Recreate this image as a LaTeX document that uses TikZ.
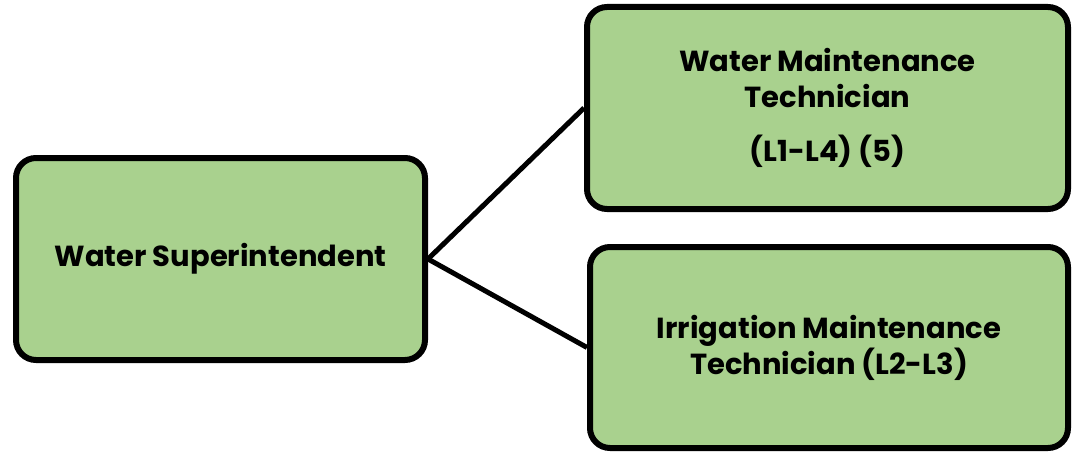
\documentclass[tikz,border=0pt]{standalone}
\usepackage{fontspec}
\setmainfont{Poppins}[UprightFont=* Bold, BoldFont=* Bold]
\definecolor{boxgreen}{HTML}{A9D18E}
\begin{document}
\begin{tikzpicture}[x=1pt,y=-1pt,
  orgbox/.style={draw=black, line width=6pt, fill=boxgreen, rounded corners=20pt,
    align=center, font=\fontsize{29}{36}\selectfont, inner sep=0pt},
  link/.style={draw=black, line width=5pt}]
  \useasboundingbox (0,0) rectangle (1072,452);
  % head of the section
  \node[orgbox, minimum width=409pt, minimum height=202pt] (sup) at (220.5,259) {Water Superintendent};
  % reports
  \node[orgbox, minimum width=481pt, minimum height=202pt] (wmt) at (827.5,108)
    {Water Maintenance\\Technician\\[18pt](L1-L4) (5)};
  \node[orgbox, minimum width=478pt, minimum height=201pt] (imt) at (829,347.5)
    {Irrigation Maintenance\\Technician (L2-L3)};
  \draw[link] (sup.east) -- (wmt.west);
  \draw[link] (sup.east) -- (imt.west);
\end{tikzpicture}
\end{document}
